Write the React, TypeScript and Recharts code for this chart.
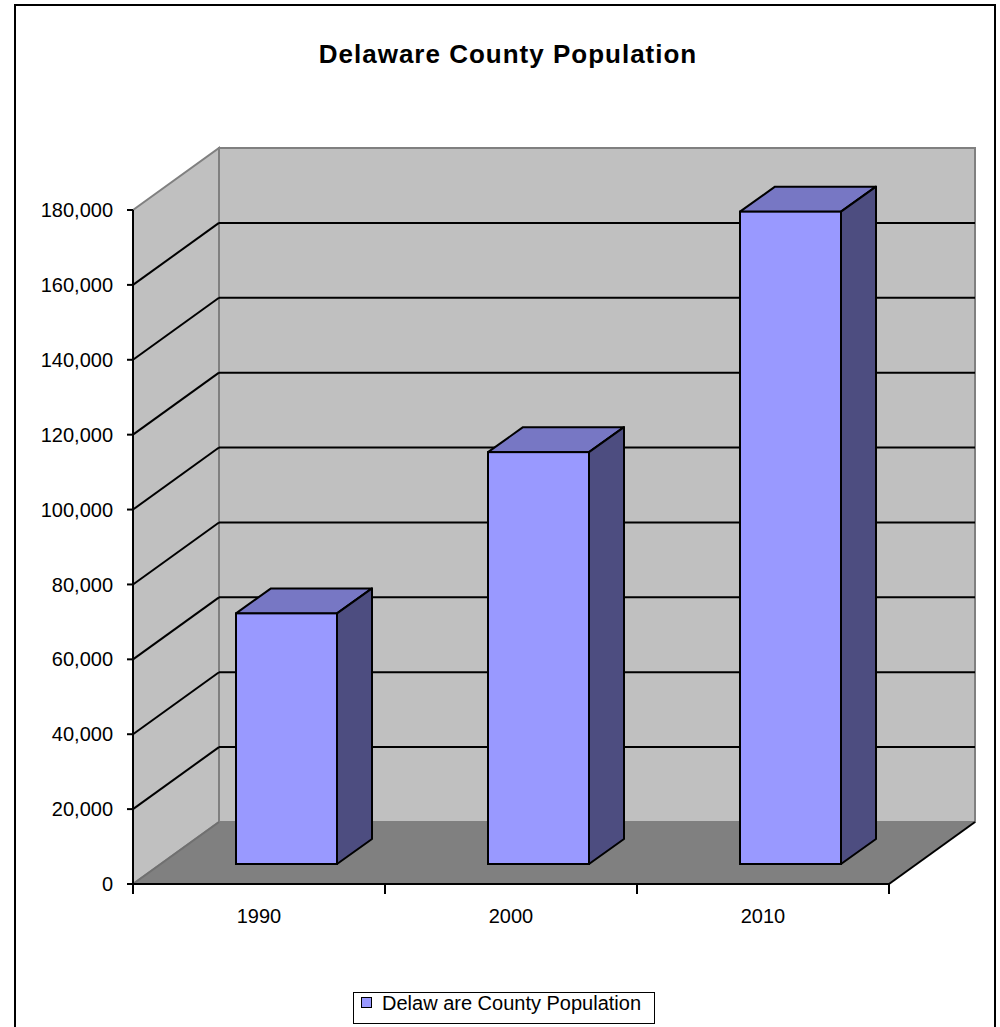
import React from 'react';
import { BarChart, Bar, XAxis, YAxis, CartesianGrid, Legend, Customized } from 'recharts';

const years = ['1990', '2000', '2010'];
const population = [66929, 109989, 174214];
const yTicks = [0, 20000, 40000, 60000, 80000, 100000, 120000, 140000, 160000, 180000];
const seriesName = 'Delaw are County Population';
const title = 'Delaware County Population';

const data = years.map((y, i) => ({ year: y, population: population[i] }));

const W = 1000;
const H = 1027;
const PL = 133;
const PR = 889;
const PT = 210;
const PB = 884;
const DX = 86;
const DY = -62;
const BDX = 27;
const BDY = -20;
const BD_X = 35;
const BD_Y = -25;
const FONT = '"Liberation Sans", Arial, Helvetica, sans-serif';

const Frame = () => (
  <g>
    <rect x={15} y={5} width={980} height={1040} fill="none" stroke="#000" strokeWidth={2} />
    <text
      x={508}
      y={63}
      textAnchor="middle"
      fontFamily={FONT}
      fontWeight="bold"
      fontSize={26}
      letterSpacing={1}
      fill="#000"
    >
      {title}
    </text>
  </g>
);

const Walls = () => (
  <g>
    <polygon
      points={`${PL + DX},${PT + DY} ${PR + DX},${PT + DY} ${PR + DX},${PB + DY} ${PL + DX},${PB + DY}`}
      fill="#C0C0C0"
      stroke="#808080"
      strokeWidth={2}
    />
    <polygon
      points={`${PL},${PT} ${PL + DX},${PT + DY} ${PL + DX},${PB + DY} ${PL},${PB}`}
      fill="#C0C0C0"
      stroke="#808080"
      strokeWidth={2}
    />
    <polygon
      points={`${PL},${PB} ${PL + DX},${PB + DY} ${PR + DX},${PB + DY} ${PR},${PB}`}
      fill="#808080"
    />
    <line x1={PL} y1={PB} x2={PL + DX} y2={PB + DY} stroke="#707070" strokeWidth={2} />
    <line x1={PR} y1={PB} x2={PR + DX} y2={PB + DY} stroke="#000" strokeWidth={2} />
  </g>
);

const gridLine = (props: any) => {
  const { x1, x2, y1, index } = props;
  const isEdge = Math.abs(y1 - PT) < 1.5 || Math.abs(y1 - PB) < 1.5;
  return (
    <g key={`gl-${index}`}>
      {index === 0 && <Walls />}
      {!isEdge && (
        <>
          <line x1={x1} y1={y1} x2={x1 + DX} y2={y1 + DY} stroke="#000" strokeWidth={2} />
          <line x1={x1 + DX} y1={y1 + DY} x2={x2 + DX} y2={y1 + DY} stroke="#000" strokeWidth={2} />
        </>
      )}
    </g>
  );
};

const Bar3D = (props: any) => {
  const { x, y, width, height } = props;
  const fx = x + BDX;
  const fy = y + BDY;
  const w = width;
  const h = height;
  return (
    <g>
      <polygon
        points={`${fx},${fy} ${fx + BD_X},${fy + BD_Y} ${fx + w + BD_X},${fy + BD_Y} ${fx + w},${fy}`}
        fill="#7777C4"
        stroke="#000"
        strokeWidth={2}
        strokeLinejoin="round"
      />
      <polygon
        points={`${fx + w},${fy} ${fx + w + BD_X},${fy + BD_Y} ${fx + w + BD_X},${fy + h + BD_Y} ${fx + w},${fy + h}`}
        fill="#4D4D80"
        stroke="#000"
        strokeWidth={2}
        strokeLinejoin="round"
      />
      <rect x={fx} y={fy} width={w} height={h} fill="#9999FF" stroke="#000" strokeWidth={2} />
    </g>
  );
};

const XTick = (props: any) => {
  const { x, payload, index } = props;
  const band = (PR - PL) / years.length;
  return (
    <g>
      <line x1={x - band / 2} y1={PB} x2={x - band / 2} y2={PB + 10} stroke="#000" strokeWidth={2} />
      {index === years.length - 1 && (
        <line x1={x + band / 2} y1={PB} x2={x + band / 2} y2={PB + 10} stroke="#000" strokeWidth={2} />
      )}
      <text x={x} y={PB + 39} textAnchor="middle" fontFamily={FONT} fontSize={20} fill="#000">
        {payload.value}
      </text>
    </g>
  );
};

const LegendContent = () => (
  <svg width={302} height={32} style={{ display: 'block' }}>
    <rect x={0.5} y={0.5} width={301} height={31} fill="#fff" stroke="#000" strokeWidth={1} />
    <rect x={8.5} y={5.5} width={10} height={10} fill="#9999FF" stroke="#000" strokeWidth={1} />
    <text x={29} y={18} fontFamily={FONT} fontSize={20} fill="#000">
      {seriesName}
    </text>
  </svg>
);

export default function App() {
  return (
    <div style={{ position: 'absolute', left: 0, top: 0, width: W, height: H, background: '#fff' }}>
      <BarChart
        width={W}
        height={H}
        data={data}
        margin={{ top: PT, right: W - PR, bottom: 0, left: 0 }}
        barSize={101}
      >
        <CartesianGrid vertical={false} horizontal={gridLine} />
        <Customized component={Frame} />
        <XAxis
          dataKey="year"
          height={H - PB}
          axisLine={{ stroke: '#000', strokeWidth: 2 }}
          tickLine={false}
          tick={<XTick />}
          interval={0}
        />
        <YAxis
          width={PL}
          domain={[0, 180000]}
          ticks={yTicks}
          interval={0}
          tickFormatter={(v: number) => v.toLocaleString('en-US')}
          axisLine={{ stroke: '#000', strokeWidth: 2 }}
          tickLine={{ stroke: '#000', strokeWidth: 2 }}
          tickSize={6}
          tickMargin={14}
          tick={{ fill: '#000', fontSize: 20, fontFamily: FONT }}
        />
        <Bar dataKey="population" name={seriesName} shape={<Bar3D />} isAnimationActive={false} />
        <Legend
          layout="horizontal"
          align="center"
          verticalAlign="middle"
          content={<LegendContent />}
          wrapperStyle={{ left: 353, top: 992, width: 302, height: 32 }}
        />
      </BarChart>
    </div>
  );
}
